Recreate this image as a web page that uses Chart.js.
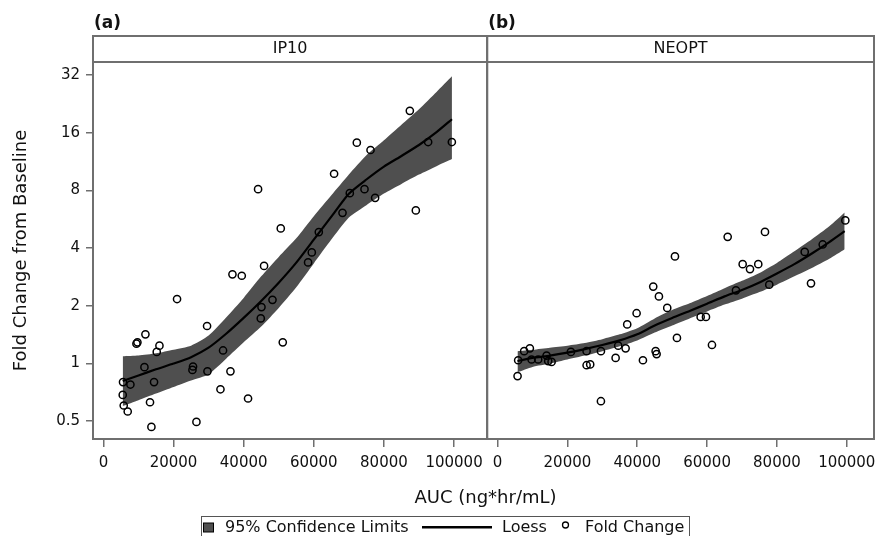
<!DOCTYPE html>
<html><head><meta charset="utf-8">
<script src="https://cdn.jsdelivr.net/npm/chart.js@4/dist/chart.umd.min.js"></script>
<style>html,body{margin:0;padding:0;background:#fff;}#wrap{position:relative;width:876px;height:536px;}</style>
</head><body><div id="wrap"><canvas id="c" width="876" height="536"></canvas></div>
<script>
// ---- data ----
const panelNames = ['IP10', 'NEOPT'];
const panelTags = ['(a)', '(b)'];
const xTickValues = [0, 20000, 40000, 60000, 80000, 100000];
const yTickValues = [0.5, 1, 2, 4, 8, 16, 32];

const ip10AUC = [45820,36800,39460,21000,48220,45080,44880,29560,11980,9700,9420,15980,15210,51150,34120,11700,25560,25390,29670,36230,5590,7700,14440,5510,33380,41250,13290,5790,6930,13690,26530,44110,50580,87390,72270,76180,92610,99370,65790,70270,74460,77490,89100,68190,61430,59430,58370];
const ip10FC  = [3.23,2.92,2.87,2.17,2.15,1.97,1.72,1.57,1.42,1.29,1.27,1.24,1.15,1.29,1.17,0.957,0.965,0.926,0.911,0.911,0.80,0.777,0.80,0.686,0.734,0.657,0.628,0.604,0.562,0.467,0.496,8.12,5.07,20.8,14.2,13.0,14.3,14.3,9.77,7.74,8.12,7.32,6.29,6.11,4.85,3.80,3.37];

const neoptAUC = [50800,44580,46210,48590,39820,37130,51370,5900,7620,9250,9740,11630,14040,14500,15470,21000,25500,29600,34550,36670,25500,26530,33810,41630,45270,45550,5730,29600,99590,76580,65900,93110,87960,70190,72290,74660,77810,89760,68270,58160,59680,61400];
const neoptFC  = [3.62,2.52,2.24,1.95,1.83,1.60,1.36,1.04,1.16,1.20,1.05,1.05,1.10,1.03,1.02,1.15,1.16,1.16,1.24,1.20,0.98,0.99,1.07,1.04,1.16,1.12,0.86,0.636,5.58,4.86,4.58,4.18,3.82,3.30,3.11,3.30,2.58,2.62,2.41,1.75,1.75,1.25];

const ip10LoessAUC = [5500,10000,15000,20000,25000,30000,35000,40000,45000,50000,55000,60000,65000,70000,75000,80000,85000,90000,95000,99400];
const ip10Loess    = [0.81,0.866,0.933,1.00,1.08,1.21,1.43,1.73,2.12,2.64,3.36,4.43,5.84,7.69,9.12,10.65,12.1,13.8,16.1,18.8];
const ip10Lower    = [0.60,0.644,0.697,0.754,0.815,0.88,1.06,1.29,1.56,1.95,2.50,3.33,4.43,5.78,6.70,7.70,8.65,9.67,10.7,11.65];
const ip10Upper    = [1.09,1.10,1.13,1.18,1.24,1.40,1.74,2.20,2.85,3.60,4.50,5.87,7.54,9.68,12.2,14.6,17.6,21.2,26.1,31.5];

const neoptLoessAUC = [5700,10000,15000,20000,25000,30000,35000,40000,45000,50000,55000,60000,65000,70000,75000,80000,85000,90000,95000,99400];
const neoptLoess    = [1.03,1.07,1.10,1.14,1.19,1.25,1.32,1.42,1.58,1.73,1.88,2.05,2.24,2.42,2.65,2.95,3.30,3.75,4.30,4.90];
const neoptLower    = [0.90,0.96,1.00,1.05,1.10,1.16,1.23,1.32,1.45,1.58,1.72,1.87,2.03,2.18,2.36,2.58,2.85,3.15,3.52,3.95];
const neoptUpper    = [1.16,1.18,1.21,1.24,1.28,1.34,1.42,1.53,1.72,1.90,2.06,2.25,2.47,2.70,2.97,3.35,3.85,4.45,5.20,6.14];

// ---- helpers ----
const FONT = "'DejaVu Sans', sans-serif";
const pts = (xs, ys) => xs.map((x, i) => ({x, y: ys[i]}));
const BAND = '#4f4f4f';
const FRAME = '#6f6f6f';

function panelDatasets(axis, aucs, fcs, lAUC, l, lo, hi) {
  return [
    {type:'scatter', data: pts(aucs, fcs), xAxisID: axis, yAxisID:'y', order:0,
     pointStyle:'circle', pointRadius:3.6, pointHoverRadius:3.6, borderColor:'#000', borderWidth:1.5, backgroundColor:'rgba(0,0,0,0)'},
    {type:'line', data: pts(lAUC, l), xAxisID: axis, yAxisID:'y', order:1,
     borderColor:'#000', borderWidth:2.2, pointRadius:0, pointHoverRadius:0, tension:0.2, fill:false},
    {type:'line', data: pts(lAUC, lo), xAxisID: axis, yAxisID:'y', order:3,
     borderWidth:0, borderColor:'rgba(0,0,0,0)', pointRadius:0, pointHoverRadius:0, tension:0.2, fill:false},
    {type:'line', data: pts(lAUC, hi), xAxisID: axis, yAxisID:'y', order:2,
     borderWidth:0, borderColor:'rgba(0,0,0,0)', pointRadius:0, pointHoverRadius:0, tension:0.2, fill:'-1', backgroundColor: BAND}
  ];
}

function xAxis(min, max, weight) {
  return {
    type:'linear', position:'bottom', stack:'xs', stackWeight: weight, min, max,
    afterBuildTicks: s => { s.ticks = xTickValues.map(v => ({value: v})); },
    afterFit: s => { s.height = 30; s.paddingLeft = 0; s.paddingRight = 0; },
    ticks:{font:{family:FONT, size:15}, color:'#111', padding:7, maxRotation:0, autoSkip:false,
           callback: v => String(v)},
    grid:{drawOnChartArea:false, drawTicks:true, tickLength:8, color:FRAME, lineWidth:1.5},
    border:{display:false}
  };
}

const decor = {
  id:'decor',
  afterDraw(chart) {
    const ctx = chart.ctx, ca = chart.chartArea;
    const axes = [chart.scales.xa, chart.scales.xb];
    ctx.save();
    ctx.strokeStyle = FRAME; ctx.lineWidth = 2;
    axes.forEach((ax, i) => {
      ctx.strokeRect(ax.left, 36, ax.right - ax.left, ca.bottom - 36);
      ctx.beginPath(); ctx.moveTo(ax.left, ca.top); ctx.lineTo(ax.right, ca.top); ctx.stroke();
      ctx.fillStyle = '#111'; ctx.textAlign = 'center'; ctx.textBaseline = 'middle';
      ctx.font = '16px ' + FONT;
      ctx.fillText(panelNames[i], (ax.left + ax.right) / 2, 49);
      ctx.textAlign = 'left'; ctx.font = 'bold 17px ' + FONT;
      ctx.fillText(panelTags[i], ax.left + 1, 24);
    });
    // x title
    ctx.fillStyle = '#111'; ctx.textAlign = 'center'; ctx.textBaseline = 'middle';
    ctx.font = '18px ' + FONT;
    ctx.fillText('AUC (ng*hr/mL)', 485.5, 498.5);
    // legend
    ctx.strokeStyle = '#555'; ctx.lineWidth = 1;
    ctx.strokeRect(201.5, 516.5, 488, 22);
    ctx.fillStyle = BAND; ctx.fillRect(203.5, 523, 10, 9);
    ctx.strokeStyle = '#000'; ctx.strokeRect(203.5, 523, 10, 9);
    ctx.font = '16px ' + FONT; ctx.textAlign = 'left'; ctx.fillStyle = '#111';
    ctx.fillText('95% Confidence Limits', 225, 527.5);
    ctx.beginPath(); ctx.lineWidth = 2.5; ctx.moveTo(422, 527.3); ctx.lineTo(492, 527.3); ctx.stroke();
    ctx.fillText('Loess', 502, 527.5);
    ctx.beginPath(); ctx.lineWidth = 1.3; ctx.arc(565.5, 525, 3, 0, Math.PI * 2); ctx.stroke();
    ctx.fillText('Fold Change', 585, 527.5);
    ctx.restore();
  }
};

new Chart(document.getElementById('c'), {
  data: {
    datasets: [
      ...panelDatasets('xa', ip10AUC, ip10FC, ip10LoessAUC, ip10Loess, ip10Lower, ip10Upper),
      ...panelDatasets('xb', neoptAUC, neoptFC, neoptLoessAUC, neoptLoess, neoptLower, neoptUpper)
    ]
  },
  options: {
    responsive:false, animation:false, devicePixelRatio:1,
    layout:{autoPadding:false, padding:{left:0, right:2, top:62, bottom:67}},
    plugins:{legend:{display:false}, tooltip:{enabled:false}},
    scales:{
      y:{type:'logarithmic', position:'left', min:0.404, max:37.4,
         afterBuildTicks: s => { s.ticks = yTickValues.map(v => ({value: v})); },
         afterFit: s => { s.width = 93; s.paddingTop = 0; s.paddingBottom = 0; },
         ticks:{font:{family:FONT, size:15}, color:'#111', padding:6, callback: v => String(v)},
         grid:{drawOnChartArea:false, drawTicks:true, tickLength:7, color:FRAME, lineWidth:1.5},
         border:{display:false},
         title:{display:true, text:'Fold Change from Baseline', font:{family:FONT, size:18}, color:'#111', padding:{top:11, bottom:0}}
      },
      xa: xAxis(-2970, 109440, 394),
      xb: xAxis(-2980, 107800, 386.7)
    }
  },
  plugins:[decor]
});
</script></body></html>
